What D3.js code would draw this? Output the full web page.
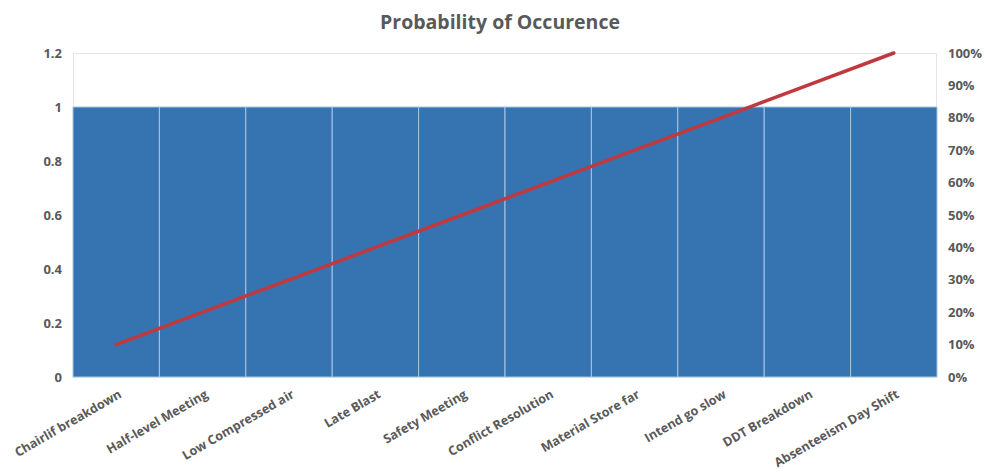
<!DOCTYPE html>
<html>
<head>
<meta charset="utf-8">
<script src="https://cdn.jsdelivr.net/npm/d3@7"></script>
<style>
  html, body { margin: 0; padding: 0; background: #fff; }
  svg { display: block; }
  text { font-family: "Open Sans", "Noto Sans", sans-serif; }
</style>
</head>
<body>
<svg id="chart" width="985" height="472"></svg>
<script>
const categories = [
  "Chairlif breakdown", "Half-level Meeting", "Low Compressed air", "Late Blast",
  "Safety Meeting", "Conflict Resolution", "Material Store far", "Intend go slow",
  "DDT Breakdown", "Absenteeism Day Shift"
];
const probability = [1, 1, 1, 1, 1, 1, 1, 1, 1, 1];
const cumulativePct = [10, 20, 30, 40, 50, 60, 70, 80, 90, 100];
const leftTicks = [0, 0.2, 0.4, 0.6, 0.8, 1, 1.2];
const rightTicks = [0, 10, 20, 30, 40, 50, 60, 70, 80, 90, 100];

const svg = d3.select("#chart");
const m = { left: 73, right: 48, top: 53, bottom: 95 };
const W = 985, H = 472;
const x0 = m.left, x1 = W - m.right, y0 = H - m.bottom, y1 = m.top;

const x = d3.scaleBand().domain(categories).range([x0, x1]).paddingInner(0).paddingOuter(0);
const y = d3.scaleLinear().domain([0, 1.2]).range([y0, y1]);
const yR = d3.scaleLinear().domain([0, 100]).range([y0, y1]);

const textColor = "#595959";

// title
svg.append("text")
  .attr("x", 500).attr("y", 29)
  .attr("text-anchor", "middle")
  .attr("font-size", 19.5).attr("font-weight", "bold")
  .attr("fill", textColor)
  .text("Probability of Occurence");

// plot frame and gridlines
svg.append("g").selectAll("line").data(leftTicks).join("line")
  .attr("x1", x0).attr("x2", x1)
  .attr("y1", d => y(d) + 0.5).attr("y2", d => y(d) + 0.5)
  .attr("stroke", "#e6e6e6").attr("stroke-width", 1);
svg.append("line").attr("x1", x0 + 0.5).attr("x2", x0 + 0.5).attr("y1", y1).attr("y2", y0)
  .attr("stroke", "#e6e6e6");
svg.append("line").attr("x1", x1 - 0.5).attr("x2", x1 - 0.5).attr("y1", y1).attr("y2", y0)
  .attr("stroke", "#e6e6e6");

// bars
svg.append("g").selectAll("rect").data(categories).join("rect")
  .attr("x", d => x(d))
  .attr("y", (d, i) => y(probability[i]))
  .attr("width", x.bandwidth())
  .attr("height", (d, i) => y(0) - y(probability[i]))
  .attr("fill", "#3673b1")
  .attr("stroke", "#a9c4e4").attr("stroke-width", 1);

// cumulative line
const line = d3.line()
  .x((d, i) => x(categories[i]) + x.bandwidth() / 2)
  .y(d => yR(d));
svg.append("path").datum(cumulativePct)
  .attr("d", line)
  .attr("fill", "none")
  .attr("stroke", "#c0393f")
  .attr("stroke-width", 3.5)
  .attr("stroke-linecap", "round");

// left axis
const gL = svg.append("g").attr("transform", `translate(${x0},0)`)
  .call(d3.axisLeft(y).tickValues(leftTicks).tickSize(0).tickPadding(11).tickFormat(d3.format("~g")));
gL.select(".domain").remove();
gL.selectAll("text").attr("font-size", 13).attr("font-weight", "bold").attr("fill", textColor)
  .style("font-family", "'Open Sans', sans-serif");

// right axis
const gR = svg.append("g").attr("transform", `translate(${x1},0)`)
  .call(d3.axisRight(yR).tickValues(rightTicks).tickSize(0).tickPadding(11).tickFormat(d => d + "%"));
gR.select(".domain").remove();
gR.selectAll("text").attr("font-size", 13).attr("font-weight", "bold").attr("fill", textColor)
  .style("font-family", "'Open Sans', sans-serif");

// category axis
const gX = svg.append("g").attr("transform", `translate(0,${y0})`);
gX.append("line").attr("x1", x0).attr("x2", x1).attr("y1", 0.5).attr("y2", 0.5).attr("stroke", "#d9d9d9");
gX.selectAll("text").data(categories).join("text")
  .attr("transform", d => `translate(${x(d) + x.bandwidth() / 2 + 4},${16}) rotate(-30)`)
  .attr("text-anchor", "end")
  .attr("dy", "0.35em")
  .attr("font-size", 12.6).attr("font-weight", "bold").attr("fill", textColor)
  .text(d => d);
</script>
</body>
</html>
